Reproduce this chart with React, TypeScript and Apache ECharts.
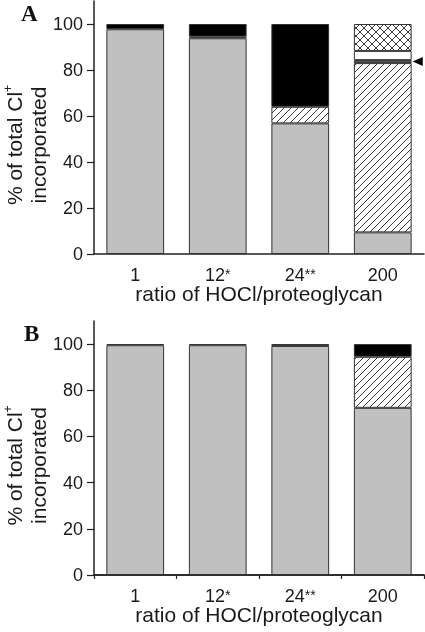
import React, { useEffect, useRef } from 'react';
import * as echarts from 'echarts';

// ---- data ----
const categories = ['1', '12', '24', '200'];
const stars = ['', '*', '**', ''];
const yTickValues = [0, 20, 40, 60, 80, 100];

// Panel A (stack order bottom -> top)
const aGrey = [97.7, 93.8, 56.8, 9.4];
const aHatched = [null, 0.7, 7.2, 73.6];
const aBand = [null, null, null, 1.3];
const aWhite = [null, null, null, 4.0];
const aCross = [null, null, null, 11.7];
const aBlack = [2.3, 5.5, 36.0, null];
const aArrowValue = 83.65;

// Panel B
const bGrey = [99.5, 99.5, 99.2, 72.4];
const bHatched = [null, null, null, 22.1];
const bBlack = [0.5, 0.5, 0.8, 5.5];

const FONT = '"Liberation Sans", Arial, sans-serif';
const TXT = '#1a1a1a';
const AXIS = '#222';

function makePattern(size: number, cross: boolean) {
  const c = document.createElement('canvas');
  c.width = size;
  c.height = size;
  const ctx = c.getContext('2d')!;
  ctx.fillStyle = '#fff';
  ctx.fillRect(0, 0, size, size);
  ctx.fillStyle = '#3a3a3a';
  for (let i = 0; i < size; i++) {
    ctx.fillRect(i, size - 1 - i, 1, 1);
    if (cross) ctx.fillRect(i, i, 1, 1);
  }
  return c;
}

export default function App() {
  const ref = useRef<HTMLDivElement>(null);
  useEffect(() => {
    if (!ref.current) return;
    const chart = echarts.init(ref.current, undefined, { renderer: 'svg' });
    const hatch = { image: makePattern(7, false), repeat: 'repeat' };
    const cross = { image: makePattern(8, true), repeat: 'repeat' };

    const xLabel = {
      interval: 0,
      margin: 13,
      formatter: (v: string, i: number) => `{n|${v}}` + (stars[i] ? `{s|${stars[i]}}` : ''),
      rich: {
        n: { fontSize: 18, lineHeight: 16, fontFamily: FONT, color: TXT },
        s: { fontSize: 14, lineHeight: 10, verticalAlign: 'top', fontFamily: FONT, color: TXT },
      },
    };
    const xAxisBase = (grid: number) => ({
      type: 'category',
      gridIndex: grid,
      position: 'bottom',
      data: categories,
      axisLine: { lineStyle: { color: AXIS, width: 1.5 } },
      axisTick: { alignWithLabel: true, length: 5, lineStyle: { color: AXIS, width: 1.2 } },
      axisLabel: xLabel,
      name: 'ratio of HOCl/proteoglycan',
      nameLocation: 'middle',
      nameGap: 33,
      nameMoveOverlap: false,
      nameTextStyle: { fontSize: 21, lineHeight: 12, fontFamily: FONT, color: TXT },
    });
    const yAxisBase = (grid: number) => ({
      type: 'value',
      gridIndex: grid,
      min: 0,
      max: 110,
      interval: 20,
      splitLine: { show: false },
      axisLine: { show: true, lineStyle: { color: AXIS, width: 1.5 } },
      axisTick: { show: true, length: 7, customValues: yTickValues, lineStyle: { color: AXIS, width: 1.2 } },
      axisLabel: { customValues: yTickValues, margin: 11, fontSize: 18, fontFamily: FONT, color: TXT },
      name: '{a|% of total Cl}{s|+}\n{a|incorporated}',
      nameLocation: 'middle',
      nameRotate: 90,
      nameGap: 44,
      nameMoveOverlap: false,
      nameTextStyle: {
        padding: [0, 35, 0, 0],
        rich: {
          a: { fontSize: 21, lineHeight: 24, fontFamily: FONT, color: TXT },
          s: { fontSize: 12, lineHeight: 12, verticalAlign: 'top', fontFamily: FONT, color: TXT },
        },
      },
    });

    const bar = (name: string, data: any[], color: any, idx: number, stack: string, extra: any = {}) => ({
      type: 'bar',
      name,
      data,
      stack,
      xAxisIndex: idx,
      yAxisIndex: idx,
      barWidth: '70%',
      itemStyle: { color, borderColor: '#333', borderWidth: 1 },
      ...extra,
    });

    const gridOpts = { containLabel: false, outerBoundsMode: 'none' };

    chart.setOption({
      animation: false,
      grid: [
        { left: 94, top: 1, width: 330, height: 253, ...gridOpts },
        { left: 94, top: 321, width: 330, height: 254, ...gridOpts },
        { left: 94, top: 321, width: 330, height: 254, ...gridOpts },
      ],
      xAxis: [
        xAxisBase(0),
        xAxisBase(1),
        {
          type: 'category',
          gridIndex: 2,
          position: 'bottom',
          data: categories,
          axisLine: { show: true, lineStyle: { color: AXIS, width: 1.5 } },
          axisLabel: { show: false },
          axisTick: { show: true, alignWithLabel: false, interval: 0, length: 4, lineStyle: { color: AXIS, width: 1.2 } },
        },
      ],
      yAxis: [
        yAxisBase(0),
        yAxisBase(1),
        { type: 'value', gridIndex: 2, min: 0, max: 110, show: false },
      ],
      graphic: [
        { type: 'text', left: 21, top: 2, style: { text: 'A', font: 'bold 23px "Liberation Serif", "Times New Roman", serif', fill: '#111' } },
        { type: 'text', left: 24, top: 322, style: { text: 'B', font: 'bold 23px "Liberation Serif", "Times New Roman", serif', fill: '#111' } },
      ],
      series: [
        bar('A grey', aGrey, '#c0c0c0', 0, 'a'),
        bar('A hatched', aHatched, hatch, 0, 'a'),
        bar('A band', aBand, '#5a5a5a', 0, 'a', {
          markPoint: {
            symbol: 'triangle',
            symbolSize: [9, 10],
            symbolRotate: 90,
            symbolOffset: [35, 0],
            itemStyle: { color: '#000' },
            label: { show: false },
            data: [{ coord: ['200', aArrowValue] }],
          },
        }),
        bar('A white', aWhite, '#ffffff', 0, 'a'),
        bar('A cross', aCross, cross, 0, 'a'),
        bar('A black', aBlack, '#000000', 0, 'a'),
        bar('B grey', bGrey, '#c0c0c0', 1, 'b'),
        bar('B hatched', bHatched, hatch, 1, 'b'),
        bar('B black', bBlack, '#000000', 1, 'b'),
      ],
    });
    return () => chart.dispose();
  }, []);
  return <div ref={ref} style={{ position: 'fixed', left: 0, top: 0, width: 425, height: 632 }} />;
}
